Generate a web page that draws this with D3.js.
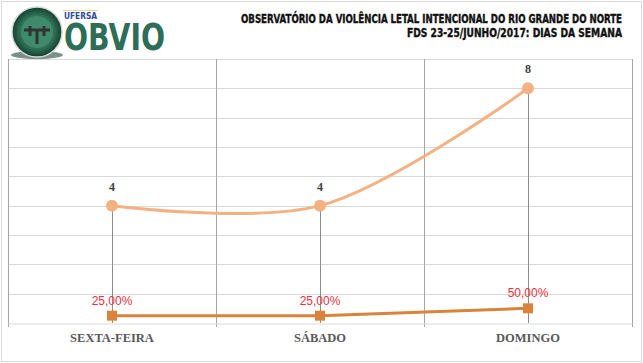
<!DOCTYPE html>
<html>
<head>
<meta charset="utf-8">
<script src="https://cdn.jsdelivr.net/npm/d3@7"></script>
<style>
  body { margin: 0; background: #fff; }
  svg { display: block; }
</style>
</head>
<body>
<div id="chart"></div>
<script>
// -------------------- DATA --------------------
const categories = ["SEXTA-FEIRA", "SÁBADO", "DOMINGO"];
const counts = [4, 4, 8];
const shares = [0.25, 0.25, 0.5];
const shareLabels = ["25,00%", "25,00%", "50,00%"];
const yTicks = [0, 1, 2, 3, 4, 5, 6, 7, 8, 9];
const titleLines = [
    "OBSERVATÓRIO DA VIOLÊNCIA LETAL INTENCIONAL DO RIO GRANDE DO NORTE",
    "FDS 23-25/JUNHO/2017:  DIAS DA SEMANA"
];

// -------------------- VISUALIZATION --------------------
function createChart(width, height, source) {
    const svg = d3.select(source)
        .append("svg")
        .attr("width", width)
        .attr("height", height)
        .attr("viewBox", [0, 0, width, height]);

    let margin = ({ top: 59, right: 11, bottom: 40, left: 8 });

    // outer frame
    svg.append("rect")
        .attr("x", 1.5).attr("y", 1.5)
        .attr("width", width - 3).attr("height", height - 3)
        .attr("fill", "white")
        .attr("stroke", "#d9d9d9");

    let x = d3.scaleBand()
        .domain(d3.range(categories.length))
        .range([margin.left, width - margin.right])
        .padding(0);
    let y = d3.scaleLinear()
        .domain([0, 9])
        .range([height - margin.bottom, margin.top]);
    let cx = i => x(i) + x.bandwidth() / 2;

    // horizontal gridlines
    svg.append("g")
        .attr("stroke", "#d9d9d9")
        .selectAll("line")
        .data(yTicks.slice(1))
        .join("line")
        .attr("x1", margin.left).attr("x2", width - margin.right)
        .attr("y1", d => Math.round(y(d)) + 0.5)
        .attr("y2", d => Math.round(y(d)) + 0.5);

    // vertical category gridlines
    let edges = d3.range(categories.length + 1).map(i => i < categories.length ? x(i) : x(i - 1) + x.bandwidth());
    svg.append("g")
        .attr("stroke", "#a6a6a6")
        .selectAll("line")
        .data(edges)
        .join("line")
        .attr("x1", d => Math.round(d) + 0.5).attr("x2", d => Math.round(d) + 0.5)
        .attr("y1", margin.top).attr("y2", y(0) + 4);

    // x axis
    let xAxis = g => g
        .attr("transform", `translate(0,${Math.round(y(0)) + 0.5})`)
        .call(d3.axisBottom(x).tickFormat(i => categories[i]).tickSize(0).tickPadding(10))
        .call(g => g.select(".domain").attr("stroke", "#d9d9d9"))
        .call(g => g.selectAll("text")
            .attr("font-family", "Liberation Serif, DejaVu Serif, serif")
            .attr("font-weight", "bold")
            .attr("font-size", 12.5)
            .attr("fill", "#595959"));
    svg.append("g").call(xAxis);

    // drop lines from counts
    svg.append("g")
        .attr("stroke", "#8c8c8c")
        .selectAll("line")
        .data(counts)
        .join("line")
        .attr("x1", (d, i) => Math.round(cx(i)) + 0.5).attr("x2", (d, i) => Math.round(cx(i)) + 0.5)
        .attr("y1", d => y(d)).attr("y2", y(0));

    // counts series (smoothed)
    let countLine = d3.line()
        .x((d, i) => cx(i))
        .y(d => y(d))
        .curve(d3.curveCatmullRom.alpha(0.5));
    svg.append("path")
        .datum(counts)
        .attr("fill", "none")
        .attr("stroke", "#f4b183")
        .attr("stroke-width", 3)
        .attr("d", countLine);
    svg.append("g")
        .attr("fill", "#f4b183")
        .selectAll("circle")
        .data(counts)
        .join("circle")
        .attr("cx", (d, i) => cx(i))
        .attr("cy", d => y(d))
        .attr("r", 6);

    // share series
    let shareLine = d3.line()
        .x((d, i) => cx(i))
        .y(d => y(d));
    svg.append("path")
        .datum(shares)
        .attr("fill", "none")
        .attr("stroke", "#d9833b")
        .attr("stroke-width", 3)
        .attr("d", shareLine);
    svg.append("g")
        .attr("fill", "#d9833b")
        .selectAll("rect")
        .data(shares)
        .join("rect")
        .attr("x", (d, i) => cx(i) - 5)
        .attr("y", d => y(d) - 5)
        .attr("width", 10)
        .attr("height", 10);

    // labels
    svg.append("g")
        .attr("text-anchor", "middle")
        .attr("font-family", "Liberation Serif, DejaVu Serif, serif")
        .attr("font-weight", "bold")
        .attr("font-size", 12)
        .attr("fill", "#404040")
        .selectAll("text")
        .data(counts)
        .join("text")
        .attr("x", (d, i) => cx(i))
        .attr("y", d => y(d) - 15)
        .text(d => d);

    svg.append("g")
        .attr("text-anchor", "middle")
        .attr("font-family", "Liberation Sans, Arial, sans-serif")
        .attr("font-size", 12)
        .attr("fill", "#e8323c")
        .selectAll("text")
        .data(shares)
        .join("text")
        .attr("x", (d, i) => cx(i))
        .attr("y", d => y(d) - 11)
        .text((d, i) => shareLabels[i]);

    // title
    svg.append("g")
        .attr("text-anchor", "start")
        .attr("font-family", "Liberation Sans Narrow, DejaVu Sans Condensed, sans-serif")
        .attr("font-weight", "bold")
        .attr("font-size", 12.5)
        .attr("fill", "#111")
        .attr("stroke", "#111")
        .attr("stroke-width", 0.4)
        .selectAll("text")
        .data(titleLines)
        .join("text")
        .attr("x", (d, i) => i === 0 ? 241 : 407)
        .attr("y", (d, i) => 23 + i * 14)
        .attr("textLength", (d, i) => i === 0 ? 381 : 215)
        .attr("lengthAdjust", "spacingAndGlyphs")
        .text(d => d);

    // logo
    let logo = svg.append("g");
    let grad = svg.append("defs").append("radialGradient").attr("id", "lg");
    grad.append("stop").attr("offset", "0%").attr("stop-color", "#4e9a7c");
    grad.append("stop").attr("offset", "70%").attr("stop-color", "#2d6e55");
    grad.append("stop").attr("offset", "100%").attr("stop-color", "#173d2e");
    logo.append("ellipse")
        .attr("cx", 37).attr("cy", 55).attr("rx", 26).attr("ry", 4)
        .attr("fill", "#1f4a3a").attr("opacity", 0.6);
    logo.append("circle")
        .attr("cx", 37).attr("cy", 32).attr("r", 25)
        .attr("fill", "url(#lg)")
        .attr("stroke", "#cfd8d3").attr("stroke-width", 1.5);
    logo.append("circle")
        .attr("cx", 37).attr("cy", 32).attr("r", 16)
        .attr("fill", "#3f8a6d");
    logo.append("path")
        .attr("d", "M24,30 L50,30 M30,26 L30,36 M44,26 L44,36 M37,30 L37,44")
        .attr("stroke", "#333").attr("stroke-width", 3);
    logo.append("text")
        .attr("x", 64).attr("y", 19)
        .attr("font-family", "DejaVu Sans Condensed, sans-serif")
        .attr("font-weight", "bold")
        .attr("font-size", 9)
        .attr("fill", "#2b4aa0")
        .attr("textLength", 33)
        .attr("lengthAdjust", "spacingAndGlyphs")
        .text("UFERSA");
    logo.append("line")
        .attr("x1", 63).attr("x2", 98).attr("y1", 10.5).attr("y2", 10.5)
        .attr("stroke", "#e6d98a").attr("stroke-width", 1);
    logo.append("text")
        .attr("x", 64).attr("y", 50)
        .attr("font-family", "DejaVu Sans, sans-serif")
        .attr("font-weight", "bold")
        .attr("font-size", 38)
        .attr("fill", "#2e6d58")
        .attr("textLength", 101)
        .attr("lengthAdjust", "spacingAndGlyphs")
        .text("OBVIO");

    return svg.node();
}

createChart(643, 363, "#chart");
</script>
</body>
</html>
